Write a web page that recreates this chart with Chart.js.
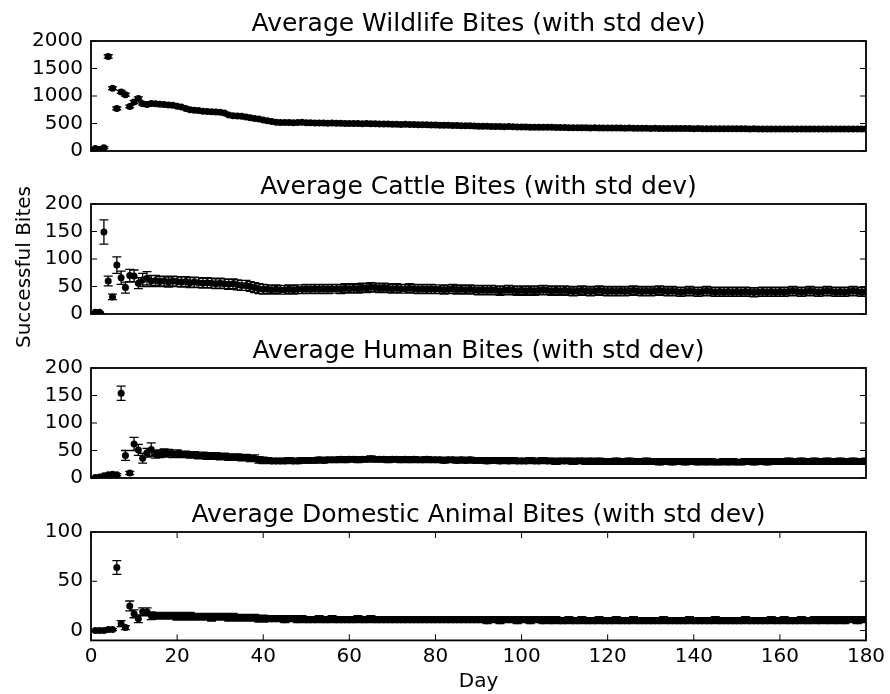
<!DOCTYPE html>
<html lang="en">
<head>
    <meta charset="UTF-8">
    <title>Average Bites</title>
    <script src="https://cdn.jsdelivr.net/npm/chart.js"></script>
    <style>
        body { margin: 0; width: 890px; height: 694px; background: #fff; position: relative; overflow: hidden; }
        canvas { position: absolute; left: 0; }
        #yLabel {
            position: absolute; left: 23px; top: 267px;
            transform: translate(-50%, -50%) rotate(-90deg);
            font: 20px 'DejaVu Sans'; color: #000; white-space: nowrap;
        }
    </style>
</head>
<body>
<canvas id="wildlifeChart" width="890" height="170" style="top:1px"></canvas>
<canvas id="cattleChart" width="890" height="170" style="top:164px"></canvas>
<canvas id="humanChart" width="890" height="170" style="top:328px"></canvas>
<canvas id="domesticChart" width="890" height="202" style="top:492px"></canvas>
<div id="yLabel">Successful Bites</div>
<script>
    // day numbers on the x axis
    const days = Array.from({length: 180}, (_, i) => i + 1);

    const titles = [
        'Average Wildlife Bites (with std dev)',
        'Average Cattle Bites (with std dev)',
        'Average Human Bites (with std dev)',
        'Average Domestic Animal Bites (with std dev)'
    ];
    const xTicks = [0, 20, 40, 60, 80, 100, 120, 140, 160, 180];
    const wildlifeTicks = [0, 500, 1000, 1500, 2000];
    const cattleTicks = [0, 50, 100, 150, 200];
    const humanTicks = [0, 50, 100, 150, 200];
    const domesticTicks = [0, 50, 100];

    const wildlifeMean = [
        45, 30, 60, 1720, 1140, 775, 1075, 1025, 810, 890,
        955, 860, 845, 865, 860, 850, 845, 835, 830, 815,
        800, 775, 750, 740, 735, 725, 720, 715, 710, 705,
        690, 655, 640, 635, 630, 620, 605, 590, 580, 565,
        550, 535, 525, 520, 520, 518, 515, 520, 525, 515,
        512, 510, 510, 508, 505, 508, 505, 503, 500, 502,
        500, 498, 496, 500, 497, 494, 492, 490, 492, 488,
        486, 484, 485, 482, 480, 478, 476, 478, 474, 472,
        470, 468, 467, 465, 463, 460, 458, 457, 455, 452,
        450, 448, 446, 447, 444, 442, 444, 440, 438, 436,
        435, 434, 432, 433, 430, 431, 432, 428, 426, 427,
        425, 424, 423, 424, 422, 420, 421, 420, 419, 418,
        418, 417, 416, 415, 416, 414, 413, 414, 412, 411,
        412, 410, 410, 409, 410, 408, 409, 407, 408, 406,
        407, 406, 405, 406, 405, 404, 405, 404, 403, 404,
        403, 404, 402, 403, 402, 401, 402, 401, 402, 400,
        401, 400, 401, 400, 401, 399, 400, 401, 400, 399,
        400, 399, 400, 401, 399, 400, 399, 400, 401, 400
    ];
    const wildlifeStd = [
        15, 12, 18, 30, 25, 25, 28, 26, 25, 30,
        30, 25, 22, 22, 22, 22, 22, 22, 22, 22,
        18, 18, 18, 18, 18, 18, 18, 18, 18, 18,
        18, 18, 18, 18, 18, 18, 18, 18, 18, 18,
        15, 15, 15, 15, 15, 15, 15, 15, 15, 15,
        15, 15, 15, 15, 15, 15, 15, 15, 15, 15,
        15, 15, 15, 15, 15, 15, 15, 15, 15, 15,
        15, 15, 15, 15, 15, 15, 15, 15, 15, 15,
        15, 15, 15, 15, 15, 15, 15, 15, 15, 15,
        15, 15, 15, 15, 15, 15, 15, 15, 15, 15,
        15, 15, 15, 15, 15, 15, 15, 15, 15, 15,
        15, 15, 15, 15, 15, 15, 15, 15, 15, 15,
        15, 15, 15, 15, 15, 15, 15, 15, 15, 15,
        15, 15, 15, 15, 15, 15, 15, 15, 15, 15,
        15, 15, 15, 15, 15, 15, 15, 15, 15, 15,
        15, 15, 15, 15, 15, 15, 15, 15, 15, 15,
        15, 15, 15, 15, 15, 15, 15, 15, 15, 15,
        15, 15, 15, 15, 15, 15, 15, 15, 15, 15
    ];

    const cattleMean = [
        3, 3, 149, 60, 31, 89, 66, 48, 70, 69,
        56, 62, 65, 60, 61, 59, 60, 58, 60, 59,
        58, 59, 57, 58, 57, 56, 57, 56, 55, 56,
        55, 54, 55, 53, 52, 52, 50, 48, 46, 45,
        45, 44, 45, 44, 44, 45, 44, 45, 45, 46,
        45, 46, 45, 46, 45, 46, 46, 45, 47, 46,
        47, 46, 48, 47, 49, 48, 47, 48, 47, 46,
        47, 46, 46, 47, 46, 45, 46, 45, 46, 45,
        45, 44, 45, 46, 44, 45, 44, 45, 44, 43,
        44, 43, 44, 43, 42, 43, 44, 43, 42, 43,
        42, 43, 42, 43, 44, 43, 42, 43, 42, 43,
        42, 41, 42, 43, 42, 41, 42, 43, 42, 41,
        42, 41, 42, 41, 42, 43, 42, 41, 42, 41,
        42, 43, 42, 41, 42, 41, 40, 41, 42, 41,
        40, 41, 42, 41, 40, 41, 40, 41, 40, 41,
        40, 41, 40, 39, 40, 41, 40, 41, 40, 41,
        40, 41, 42, 41, 40, 41, 42, 41, 40, 41,
        42, 41, 40, 41, 40, 41, 42, 41, 40, 41
    ];
    const cattleStd = [
        1, 1, 22, 9, 5, 15, 12, 10, 11, 11,
        10, 12, 12, 10, 9, 9, 9, 9, 9, 9,
        9, 9, 9, 9, 9, 9, 9, 9, 9, 9,
        9, 9, 9, 9, 9, 9, 9, 9, 9, 9,
        8, 8, 8, 8, 8, 8, 8, 8, 8, 8,
        8, 8, 8, 8, 8, 8, 8, 8, 8, 8,
        8, 8, 8, 8, 8, 8, 8, 8, 8, 8,
        8, 8, 8, 8, 8, 8, 8, 8, 8, 8,
        8, 8, 8, 8, 8, 8, 8, 8, 8, 8,
        8, 8, 8, 8, 8, 8, 8, 8, 8, 8,
        8, 8, 8, 8, 8, 8, 8, 8, 8, 8,
        8, 8, 8, 8, 8, 8, 8, 8, 8, 8,
        8, 8, 8, 8, 8, 8, 8, 8, 8, 8,
        8, 8, 8, 8, 8, 8, 8, 8, 8, 8,
        8, 8, 8, 8, 8, 8, 8, 8, 8, 8,
        8, 8, 8, 8, 8, 8, 8, 8, 8, 8,
        8, 8, 8, 8, 8, 8, 8, 8, 8, 8,
        8, 8, 8, 8, 8, 8, 8, 8, 8, 8
    ];

    const humanMean = [
        1, 2, 4, 6, 7, 6, 154, 41, 9, 62,
        51, 36, 46, 52, 43, 44, 46, 45, 44, 44,
        43, 43, 42, 42, 41, 41, 40, 40, 40, 39,
        39, 38, 38, 38, 37, 37, 36, 36, 33, 32,
        32, 31, 31, 31, 31, 32, 31, 31, 32, 32,
        32, 32, 33, 32, 33, 33, 33, 34, 33, 34,
        34, 33, 34, 34, 35, 34, 34, 34, 33, 34,
        34, 33, 34, 33, 34, 33, 33, 34, 33, 33,
        33, 32, 33, 33, 32, 33, 32, 33, 32, 32,
        32, 31, 32, 32, 31, 32, 31, 32, 31, 31,
        31, 32, 31, 31, 32, 31, 31, 30, 31, 31,
        31, 30, 31, 31, 30, 31, 30, 31, 30, 30,
        30, 31, 30, 30, 31, 30, 30, 30, 31, 30,
        30, 29, 30, 30, 29, 30, 30, 29, 30, 30,
        29, 30, 29, 30, 29, 29, 30, 29, 30, 29,
        29, 30, 30, 29, 30, 30, 29, 30, 30, 30,
        30, 31, 30, 30, 31, 30, 30, 31, 30, 30,
        31, 30, 30, 31, 30, 30, 31, 30, 30, 31
    ];
    const humanStd = [
        1, 1, 2, 2, 2, 2, 13, 9, 3, 12,
        10, 9, 8, 12, 7, 7, 7, 7, 7, 7,
        6, 6, 6, 6, 6, 6, 6, 6, 6, 6,
        6, 6, 6, 6, 6, 6, 6, 6, 6, 6,
        5, 5, 5, 5, 5, 5, 5, 5, 5, 5,
        5, 5, 5, 5, 5, 5, 5, 5, 5, 5,
        5, 5, 5, 5, 5, 5, 5, 5, 5, 5,
        5, 5, 5, 5, 5, 5, 5, 5, 5, 5,
        5, 5, 5, 5, 5, 5, 5, 5, 5, 5,
        5, 5, 5, 5, 5, 5, 5, 5, 5, 5,
        5, 5, 5, 5, 5, 5, 5, 5, 5, 5,
        5, 5, 5, 5, 5, 5, 5, 5, 5, 5,
        5, 5, 5, 5, 5, 5, 5, 5, 5, 5,
        5, 5, 5, 5, 5, 5, 5, 5, 5, 5,
        5, 5, 5, 5, 5, 5, 5, 5, 5, 5,
        5, 5, 5, 5, 5, 5, 5, 5, 5, 5,
        5, 5, 5, 5, 5, 5, 5, 5, 5, 5,
        5, 5, 5, 5, 5, 5, 5, 5, 5, 5
    ];

    const domesticMean = [
        0, 0, 0, 1, 1, 64, 7, 3, 25, 17,
        12, 19, 19, 15, 15, 15, 15, 15, 15, 14,
        15, 14, 15, 14, 14, 14, 14, 13, 14, 14,
        14, 13, 14, 13, 13, 13, 13, 13, 12, 12,
        12, 12, 12, 12, 11, 12, 12, 11, 12, 11,
        11, 11, 12, 11, 11, 12, 11, 11, 11, 11,
        11, 12, 11, 11, 12, 11, 11, 11, 11, 11,
        11, 11, 11, 11, 11, 11, 11, 11, 11, 11,
        11, 11, 11, 11, 11, 11, 11, 11, 11, 11,
        11, 10, 11, 11, 10, 11, 11, 11, 10, 11,
        11, 10, 11, 11, 10, 11, 10, 11, 10, 10,
        11, 10, 10, 11, 10, 10, 10, 11, 10, 10,
        10, 11, 10, 10, 10, 11, 10, 10, 10, 10,
        10, 10, 11, 10, 10, 10, 10, 10, 11, 10,
        10, 10, 10, 10, 11, 10, 10, 10, 10, 10,
        10, 11, 10, 10, 10, 10, 10, 11, 10, 10,
        11, 10, 10, 10, 11, 10, 10, 11, 10, 11,
        10, 11, 10, 11, 10, 11, 11, 10, 11, 11
    ];
    const domesticStd = [
        1, 1, 1, 1, 1, 7, 3, 2, 5, 4,
        4, 4, 4, 4, 3.5, 3.5, 3.5, 3.5, 3.5, 3.5,
        3.5, 3.5, 3.5, 3.5, 3.5, 3.5, 3.5, 3.5, 3.5, 3.5,
        3.5, 3.5, 3.5, 3.5, 3.5, 3.5, 3.5, 3.5, 3.5, 3.5,
        3, 3, 3, 3, 3, 3, 3, 3, 3, 3,
        3, 3, 3, 3, 3, 3, 3, 3, 3, 3,
        3, 3, 3, 3, 3, 3, 3, 3, 3, 3,
        3, 3, 3, 3, 3, 3, 3, 3, 3, 3,
        3, 3, 3, 3, 3, 3, 3, 3, 3, 3,
        3, 3, 3, 3, 3, 3, 3, 3, 3, 3,
        3, 3, 3, 3, 3, 3, 3, 3, 3, 3,
        3, 3, 3, 3, 3, 3, 3, 3, 3, 3,
        3, 3, 3, 3, 3, 3, 3, 3, 3, 3,
        3, 3, 3, 3, 3, 3, 3, 3, 3, 3,
        3, 3, 3, 3, 3, 3, 3, 3, 3, 3,
        3, 3, 3, 3, 3, 3, 3, 3, 3, 3,
        3, 3, 3, 3, 3, 3, 3, 3, 3, 3,
        3, 3, 3, 3, 3, 3, 3, 3, 3, 3
    ];

    Chart.defaults.font.family = "'DejaVu Sans'";
    Chart.defaults.color = '#000';

    // error bars, matplotlib style: vertical line with small caps
    const errorBarPlugin = {
        id: 'errorBars',
        beforeDatasetsDraw(chart, args, opts) {
            const {ctx, chartArea: a, scales: {x, y}} = chart;
            const pts = chart.data.datasets[0].data;
            ctx.save();
            ctx.beginPath();
            ctx.rect(a.left, a.top, a.right - a.left, a.bottom - a.top);
            ctx.clip();
            ctx.strokeStyle = '#000';
            ctx.lineWidth = 1.3;
            ctx.beginPath();
            pts.forEach((p, i) => {
                const px = x.getPixelForValue(p.x);
                const hi = y.getPixelForValue(p.y + opts.errors[i]);
                const lo = y.getPixelForValue(p.y - opts.errors[i]);
                ctx.moveTo(px, hi); ctx.lineTo(px, lo);
                ctx.moveTo(px - 4.5, hi); ctx.lineTo(px + 4.5, hi);
                ctx.moveTo(px - 4.5, lo); ctx.lineTo(px + 4.5, lo);
            });
            ctx.stroke();
            ctx.restore();
        }
    };

    // axes frame, inward ticks and the panel title
    const framePlugin = {
        id: 'frame',
        afterDraw(chart, args, opts) {
            const {ctx, chartArea: a, scales: {x, y}} = chart;
            ctx.save();
            ctx.strokeStyle = '#000';
            ctx.lineWidth = 1;
            ctx.beginPath();
            y.ticks.forEach(t => {
                const py = y.getPixelForValue(t.value);
                ctx.moveTo(a.left, py); ctx.lineTo(a.left + 6, py);
                ctx.moveTo(a.right, py); ctx.lineTo(a.right - 6, py);
            });
            if (opts.xTicks) {
                x.ticks.forEach(t => {
                    const px = x.getPixelForValue(t.value);
                    ctx.moveTo(px, a.bottom); ctx.lineTo(px, a.bottom - 6);
                    ctx.moveTo(px, a.top); ctx.lineTo(px, a.top + 6);
                });
            }
            ctx.stroke();
            ctx.lineWidth = 1.8;
            ctx.strokeRect(a.left, a.top, a.right - a.left, a.bottom - a.top);
            ctx.fillStyle = '#000';
            ctx.font = "25px 'DejaVu Sans'";
            ctx.textAlign = 'center';
            ctx.textBaseline = 'alphabetic';
            ctx.fillText(opts.title, (a.left + a.right) / 2, a.top - 10);
            ctx.restore();
        }
    };

    function makePanel(canvasId, title, mean, std, yMin, yMax, yTicks, bottom) {
        const ctx = document.getElementById(canvasId).getContext('2d');
        return new Chart(ctx, {
            type: 'scatter',
            data: {
                datasets: [{
                    data: days.map((d, i) => ({x: d, y: mean[i]})),
                    backgroundColor: '#000',
                    borderWidth: 0,
                    pointRadius: 3.5,
                    pointHoverRadius: 3.5
                }]
            },
            plugins: [errorBarPlugin, framePlugin],
            options: {
                responsive: false,
                animation: false,
                events: [],
                layout: {padding: {left: 0, right: 24, top: 40, bottom: bottom ? 0 : 14.4}},
                plugins: {
                    legend: {display: false},
                    tooltip: {enabled: false},
                    errorBars: {errors: std},
                    frame: {title: title, xTicks: bottom}
                },
                scales: {
                    x: {
                        type: 'linear', min: 0, max: 180,
                        display: bottom,
                        grid: {display: false, drawTicks: false},
                        border: {display: false},
                        afterBuildTicks: s => { s.ticks = xTicks.map(v => ({value: v})); },
                        afterFit: s => { if (bottom) s.height = 53.6; },
                        ticks: {font: {size: 20}, padding: 4, maxRotation: 0, autoSkip: false, callback: v => String(v)},
                        title: {display: true, text: 'Day', font: {size: 20}, padding: {top: 0, bottom: 0}}
                    },
                    y: {
                        type: 'linear', min: yMin, max: yMax,
                        grid: {display: false, drawTicks: false},
                        border: {display: false},
                        afterBuildTicks: s => { s.ticks = yTicks.map(v => ({value: v})); },
                        afterFit: s => { s.width = 91; },
                        ticks: {font: {size: 20}, padding: 8, autoSkip: false, callback: v => String(v)}
                    }
                }
            }
        });
    }

    makePanel('wildlifeChart', titles[0], wildlifeMean, wildlifeStd, 0, 2000, wildlifeTicks, false);
    makePanel('cattleChart', titles[1], cattleMean, cattleStd, 0, 200, cattleTicks, false);
    makePanel('humanChart', titles[2], humanMean, humanStd, 0, 200, humanTicks, false);
    makePanel('domesticChart', titles[3], domesticMean, domesticStd, -10, 100, domesticTicks, true);
</script>
</body>
</html>
